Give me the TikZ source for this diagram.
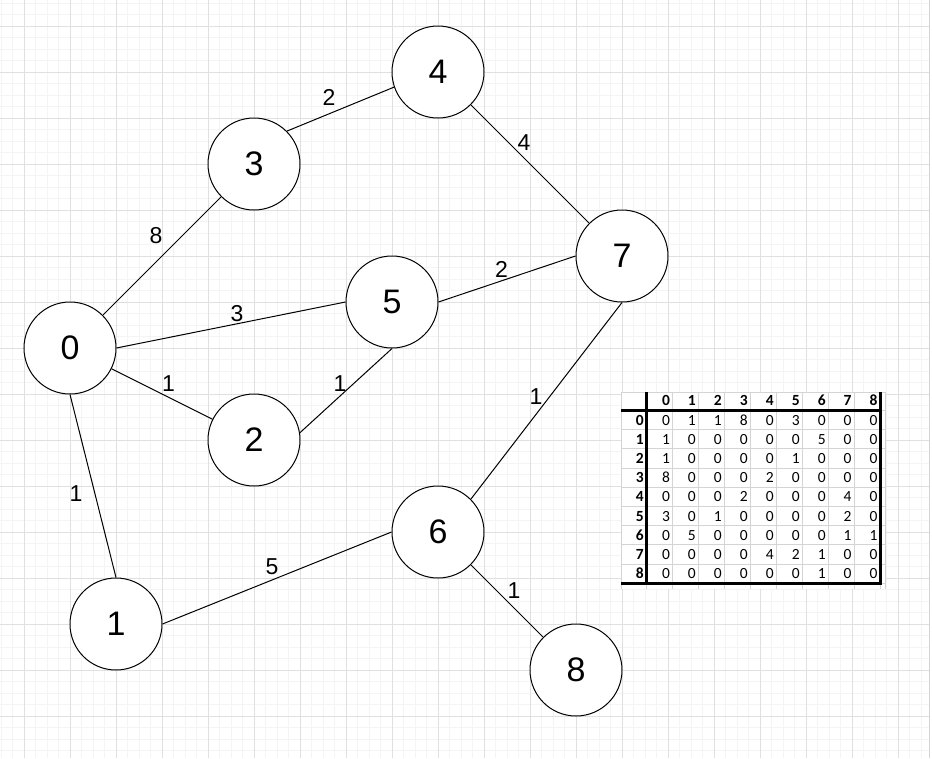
\documentclass[tikz,border=0pt]{standalone}
\usepackage{fontspec}
\setmainfont{Liberation Sans}
\newfontfamily\calfont{Carlito}
\definecolor{gminor}{HTML}{F4F4F4}
\definecolor{gmajor}{HTML}{E0E0E0}
\definecolor{xlgrid}{HTML}{D4D4D4}
\tikzset{
  vtx/.style={circle, draw=black, line width=1pt, fill=white, minimum size=92pt, inner sep=0pt, font=\fontsize{34}{34}\selectfont},
  conn/.style={draw=black, line width=1pt},
  wlab/.style={font=\fontsize{23}{23}\selectfont, inner sep=0pt},
  cellt/.style={font=\calfont\fontsize{15.5}{15.5}\selectfont, anchor=base east, inner sep=0pt},
  hcellt/.style={font=\calfont\bfseries\fontsize{15.5}{15.5}\selectfont, anchor=base east, inner sep=0pt},
  gridminor/.style={draw=gminor, line width=1pt},
  gridmajor/.style={draw=gmajor, line width=1pt},
  xlline/.style={draw=xlgrid, line width=1pt},
  thickline/.style={draw=black, line width=2.6pt},
}
\begin{document}
\begin{tikzpicture}[x=1pt,y=-1pt]
\useasboundingbox (0,0) rectangle (932,758);
\fill[white] (0,0) rectangle (932,758);
% background grid
\foreach \i in {0,...,80} { \draw[gridminor] ({1+11.5*\i},0) -- ({1+11.5*\i},758); }
\foreach \i in {0,...,65} { \draw[gridminor] (0,{3+11.5*\i}) -- (929,{3+11.5*\i}); }
\foreach \k in {0,...,19} { \draw[gridmajor] ({24+46*\k},0) -- ({24+46*\k},758); }
\foreach \k in {0,...,15} { \draw[gridmajor] (0,{26+46*\k}) -- (929,{26+46*\k}); }
\fill[white] (929.5,0) rectangle (932,758);
\draw[draw=xlgrid, line width=1pt] (929.5,0) -- (929.5,758);

% nodes
\node[vtx] (n0) at (70,348) {0};
\node[vtx] (n1) at (116,624) {1};
\node[vtx] (n2) at (254,440) {2};
\node[vtx] (n3) at (254,164) {3};
\node[vtx] (n4) at (438,72) {4};
\node[vtx] (n5) at (392,302) {5};
\node[vtx] (n6) at (438,532) {6};
\node[vtx] (n7) at (622,256) {7};
\node[vtx] (n8) at (576,670) {8};

% edges
\draw[conn] (n0) -- (n3);
\draw[conn] (n3.45) -- (n4.199);
\draw[conn] (n4) -- (n7);
\draw[conn] (n0.east) -- (n5.west);
\draw[conn] (n5.east) -- (n7.west);
\draw[conn] (n0) -- (n2);
\draw[conn] (n2.9) -- (n5.south);
\draw[conn] (n0.south) -- (n1.north);
\draw[conn] (n1.east) -- (n6.west);
\draw[conn] (n7.south) -- (n6.45);
\draw[conn] (n6) -- (n8);

% edge labels
\node[wlab] (l03) at (156,236) {8};
\node[wlab] (l34) at (329,97) {2};
\node[wlab] (l47) at (524,143) {4};
\node[wlab] (l05) at (237,314) {3};
\node[wlab] (l57) at (501.5,269) {2};
\node[wlab] (l02) at (168.5,384) {1};
\node[wlab] (l25) at (340,383.5) {1};
\node[wlab] (l01) at (76,494) {1};
\node[wlab] (l16) at (272,567) {5};
\node[wlab] (l76) at (536,396.5) {1};
\node[wlab] (l68) at (514,591) {1};

% adjacency table
\fill[white] (621,392) rectangle (885,589);
\foreach \c in {0,...,9} { \draw[xlline] ({646.6+25.96*\c},392) -- ({646.6+25.96*\c},589); }
\draw[xlline] (621,392) -- (621,589);
\draw[xlline] (885,392) -- (885,589);
\foreach \r in {0,...,9} { \draw[xlline] (621,{410.5+19.2*\r}) -- (885,{410.5+19.2*\r}); }
\draw[xlline] (621,392) -- (885,392);
\foreach \c in {0,...,8} {
  \node[hcellt] (h\c) at ({646.6+25.96*(\c+1)-2.5},405.5) {\c};
}
\foreach \r/\vals in {0/{0,1,1,8,0,3,0,0,0},1/{1,0,0,0,0,0,5,0,0},2/{1,0,0,0,0,1,0,0,0},3/{8,0,0,0,2,0,0,0,0},4/{0,0,0,2,0,0,0,4,0},5/{3,0,1,0,0,0,0,2,0},6/{0,5,0,0,0,0,0,1,1},7/{0,0,0,0,4,2,1,0,0},8/{0,0,0,0,0,0,1,0,0}} {
  \node[hcellt] (r\r) at (644,{410.5+19.2*(\r+1)-4.6}) {\r};
  \foreach \v [count=\c from 0] in \vals {
    \node[cellt] (c\r-\c) at ({646.6+25.96*(\c+1)-2.5},{410.5+19.2*(\r+1)-4.6}) {\v};
  }
}
\draw[thickline] (646.6,392) -- (646.6,583.3);
\draw[thickline] (621,410.5) -- (880.8,410.5);
\draw[thickline] (880.4,392) -- (880.4,583.3);
\draw[thickline] (621,583.3) -- (882,583.3);
\end{tikzpicture}
\end{document}
